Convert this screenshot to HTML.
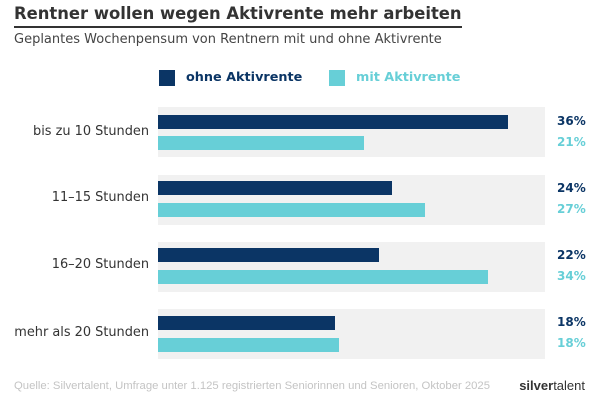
<!DOCTYPE html>
<html><head><meta charset="utf-8"><style>
body{margin:0;width:600px;height:400px;background:#fff;font-family:"DejaVu Sans","Liberation Sans",sans-serif;position:relative;overflow:hidden}
.a{position:absolute;white-space:nowrap}
.band{position:absolute;left:158px;width:387px;height:50px;background:#f1f1f1}
.d{position:absolute;left:158px;height:14px;background:#0b3565}
.l{position:absolute;left:158px;height:14px;background:#67cfd7}
.cat{position:absolute;right:451px;font-size:12.9px;color:#333}
.vd{position:absolute;left:557px;font-size:12px;font-weight:bold;color:#0b3565}
.vl{position:absolute;left:557px;font-size:12px;font-weight:bold;color:#67cfd7}
</style></head><body>
<div class="a" style="left:14px;top:4px;font-size:16.4px;font-weight:bold;color:#333">Rentner wollen wegen Aktivrente mehr arbeiten</div>
<div class="a" style="left:14px;top:26px;width:448px;height:2px;background:#333"></div>
<div class="a" style="left:14px;top:32px;font-size:13px;color:#444">Geplantes Wochenpensum von Rentnern mit und ohne Aktivrente</div>
<div class="a" style="left:159px;top:70px;width:16px;height:16px;background:#0b3565"></div>
<div class="a" style="left:186px;top:70px;font-size:12.8px;font-weight:bold;color:#0b3565">ohne Aktivrente</div>
<div class="a" style="left:329px;top:70px;width:16px;height:16px;background:#67cfd7"></div>
<div class="a" style="left:356px;top:70px;font-size:12.8px;font-weight:bold;color:#67cfd7">mit Aktivrente</div>

<div class="band" style="top:107px"></div>
<div class="d" style="top:115px;width:350px"></div><div class="l" style="top:136px;width:206px"></div>
<div class="cat" style="top:124px">bis zu 10 Stunden</div>
<div class="vd" style="top:114px">36%</div><div class="vl" style="top:135px">21%</div>

<div class="band" style="top:175px"></div>
<div class="d" style="top:181px;width:234px"></div><div class="l" style="top:203px;width:267px"></div>
<div class="cat" style="top:190px">11–15 Stunden</div>
<div class="vd" style="top:181px">24%</div><div class="vl" style="top:202px">27%</div>

<div class="band" style="top:242px"></div>
<div class="d" style="top:248px;width:221px"></div><div class="l" style="top:270px;width:330px"></div>
<div class="cat" style="top:257px">16–20 Stunden</div>
<div class="vd" style="top:248px">22%</div><div class="vl" style="top:269px">34%</div>

<div class="band" style="top:309px"></div>
<div class="d" style="top:316px;width:177px"></div><div class="l" style="top:338px;width:181px"></div>
<div class="cat" style="top:325px">mehr als 20 Stunden</div>
<div class="vd" style="top:315px">18%</div><div class="vl" style="top:336px">18%</div>

<div class="a" style="left:14px;top:380px;font-size:11.3px;color:#c4c4c4;font-family:'Liberation Sans',sans-serif">Quelle: Silvertalent, Umfrage unter 1.125 registrierten Seniorinnen und Senioren, Oktober 2025</div>
<div class="a" style="right:15px;top:378px;font-size:13px;color:#333;font-family:'Liberation Sans',sans-serif"><b>silver</b>talent</div>
</body></html>
